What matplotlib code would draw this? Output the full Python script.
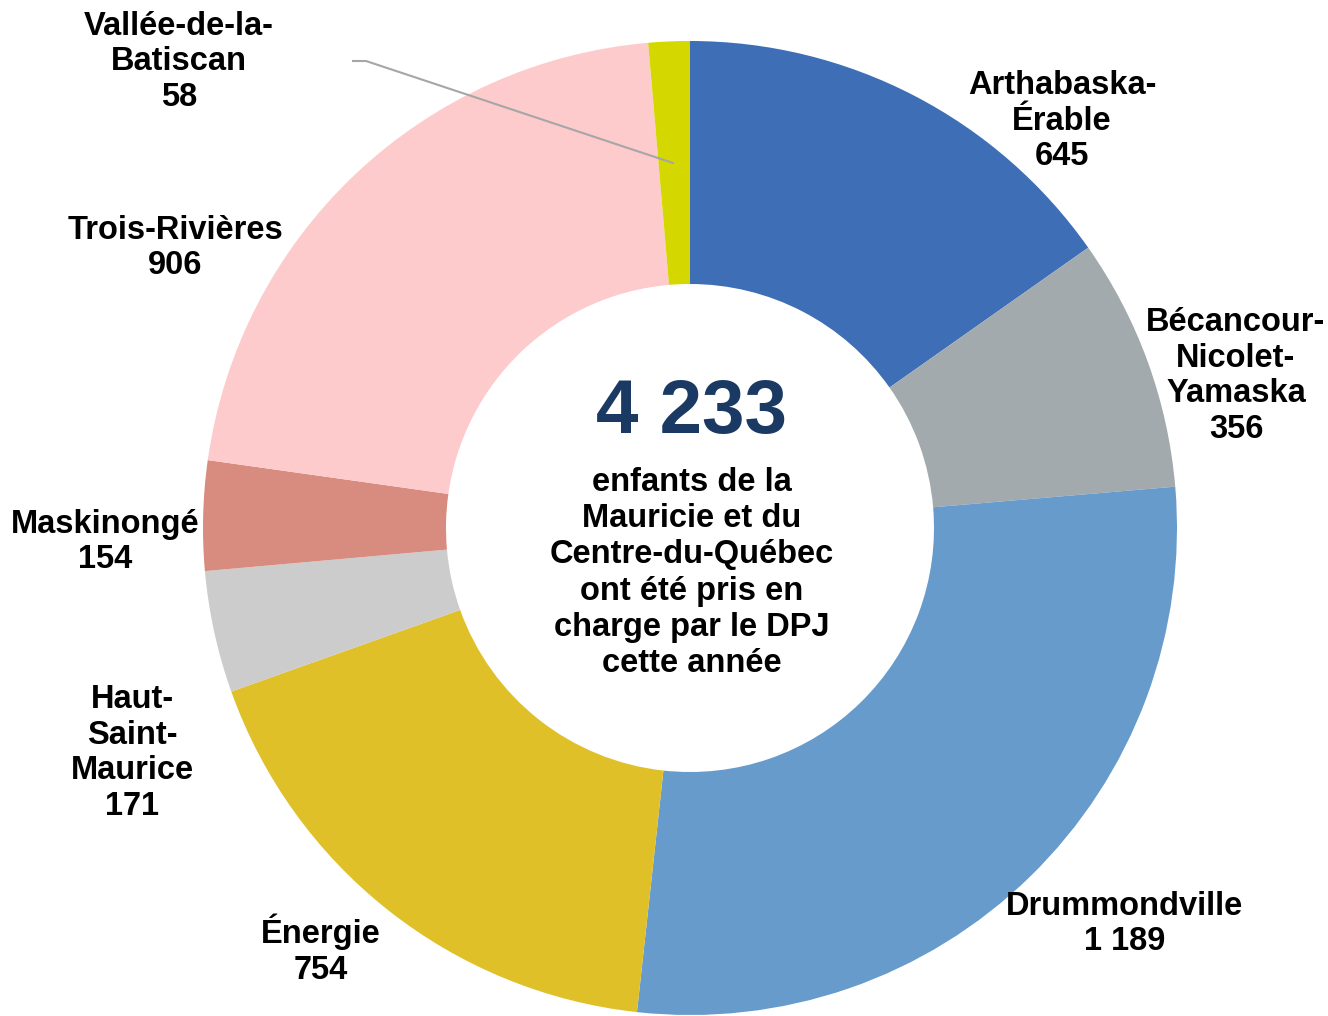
import matplotlib

matplotlib.use("Agg")
import matplotlib.pyplot as plt

plt.rcParams["font.family"] = ["Liberation Sans", "DejaVu Sans"]

# data
regions = [
    "Arthabaska-\nÉrable",
    "Bécancour-\nNicolet-\nYamaska",
    "Drummondville",
    "Énergie",
    "Haut-\nSaint-\nMaurice",
    "Maskinongé",
    "Trois-Rivières",
    "Vallée-de-la-\nBatiscan",
]
counts = [645, 356, 1189, 754, 171, 154, 906, 58]
colors = ["#3E6EB5", "#A2AAAD", "#669BCC", "#E0C028", "#CCCCCC", "#D88C80", "#FDCBCB", "#D4D800"]

# label anchor points (pixel coords of the figure)
label_pos = [
    (1062, 121),
    (1236, 376),
    (1125, 924),
    (321, 950),
    (132, 753),
    (105, 542),
    (175, 248),
    (179, 62),
]

W, H = 1328, 1016
CX, CY = 690, 528
R_OUT, R_IN = 487, 244


def fmt(n):
    return f"{n:,}".replace(",", " ")


fig = plt.figure(figsize=(W / 100, H / 100), dpi=100)
ax = fig.add_axes([0, 0, 1, 1])

ax.pie(
    counts,
    colors=colors,
    startangle=90,
    counterclock=False,
    radius=R_OUT,
    center=(CX, H - CY),
    wedgeprops=dict(width=R_OUT - R_IN, linewidth=0),
)
ax.set_xlim(0, W)
ax.set_ylim(0, H)
ax.set_aspect("equal")
ax.axis("off")

for name, n, (px, py) in zip(regions, counts, label_pos):
    ax.text(px, H - py, f"{name}\n{fmt(n)}", ha="center", va="center",
            fontsize=23.5, fontweight="bold", color="black", linespacing=1.19)

# leader line for the small slice
ax.plot([353, 366, 673], [H - 61, H - 61, H - 163], color="#A6A6A6", lw=1.5)

# centre text
total = sum(counts)
ax.text(CX + 2, H - 413, fmt(total), ha="center", va="center",
        fontsize=55, fontweight="bold", color="#1B3A63")
ax.text(CX + 2, H - 573,
        "enfants de la\nMauricie et du\nCentre-du-Québec\nont été pris en\ncharge par le DPJ\ncette année",
        ha="center", va="center", fontsize=23.5, fontweight="bold", color="black", linespacing=1.22)

fig.savefig("out.png", dpi=100)
